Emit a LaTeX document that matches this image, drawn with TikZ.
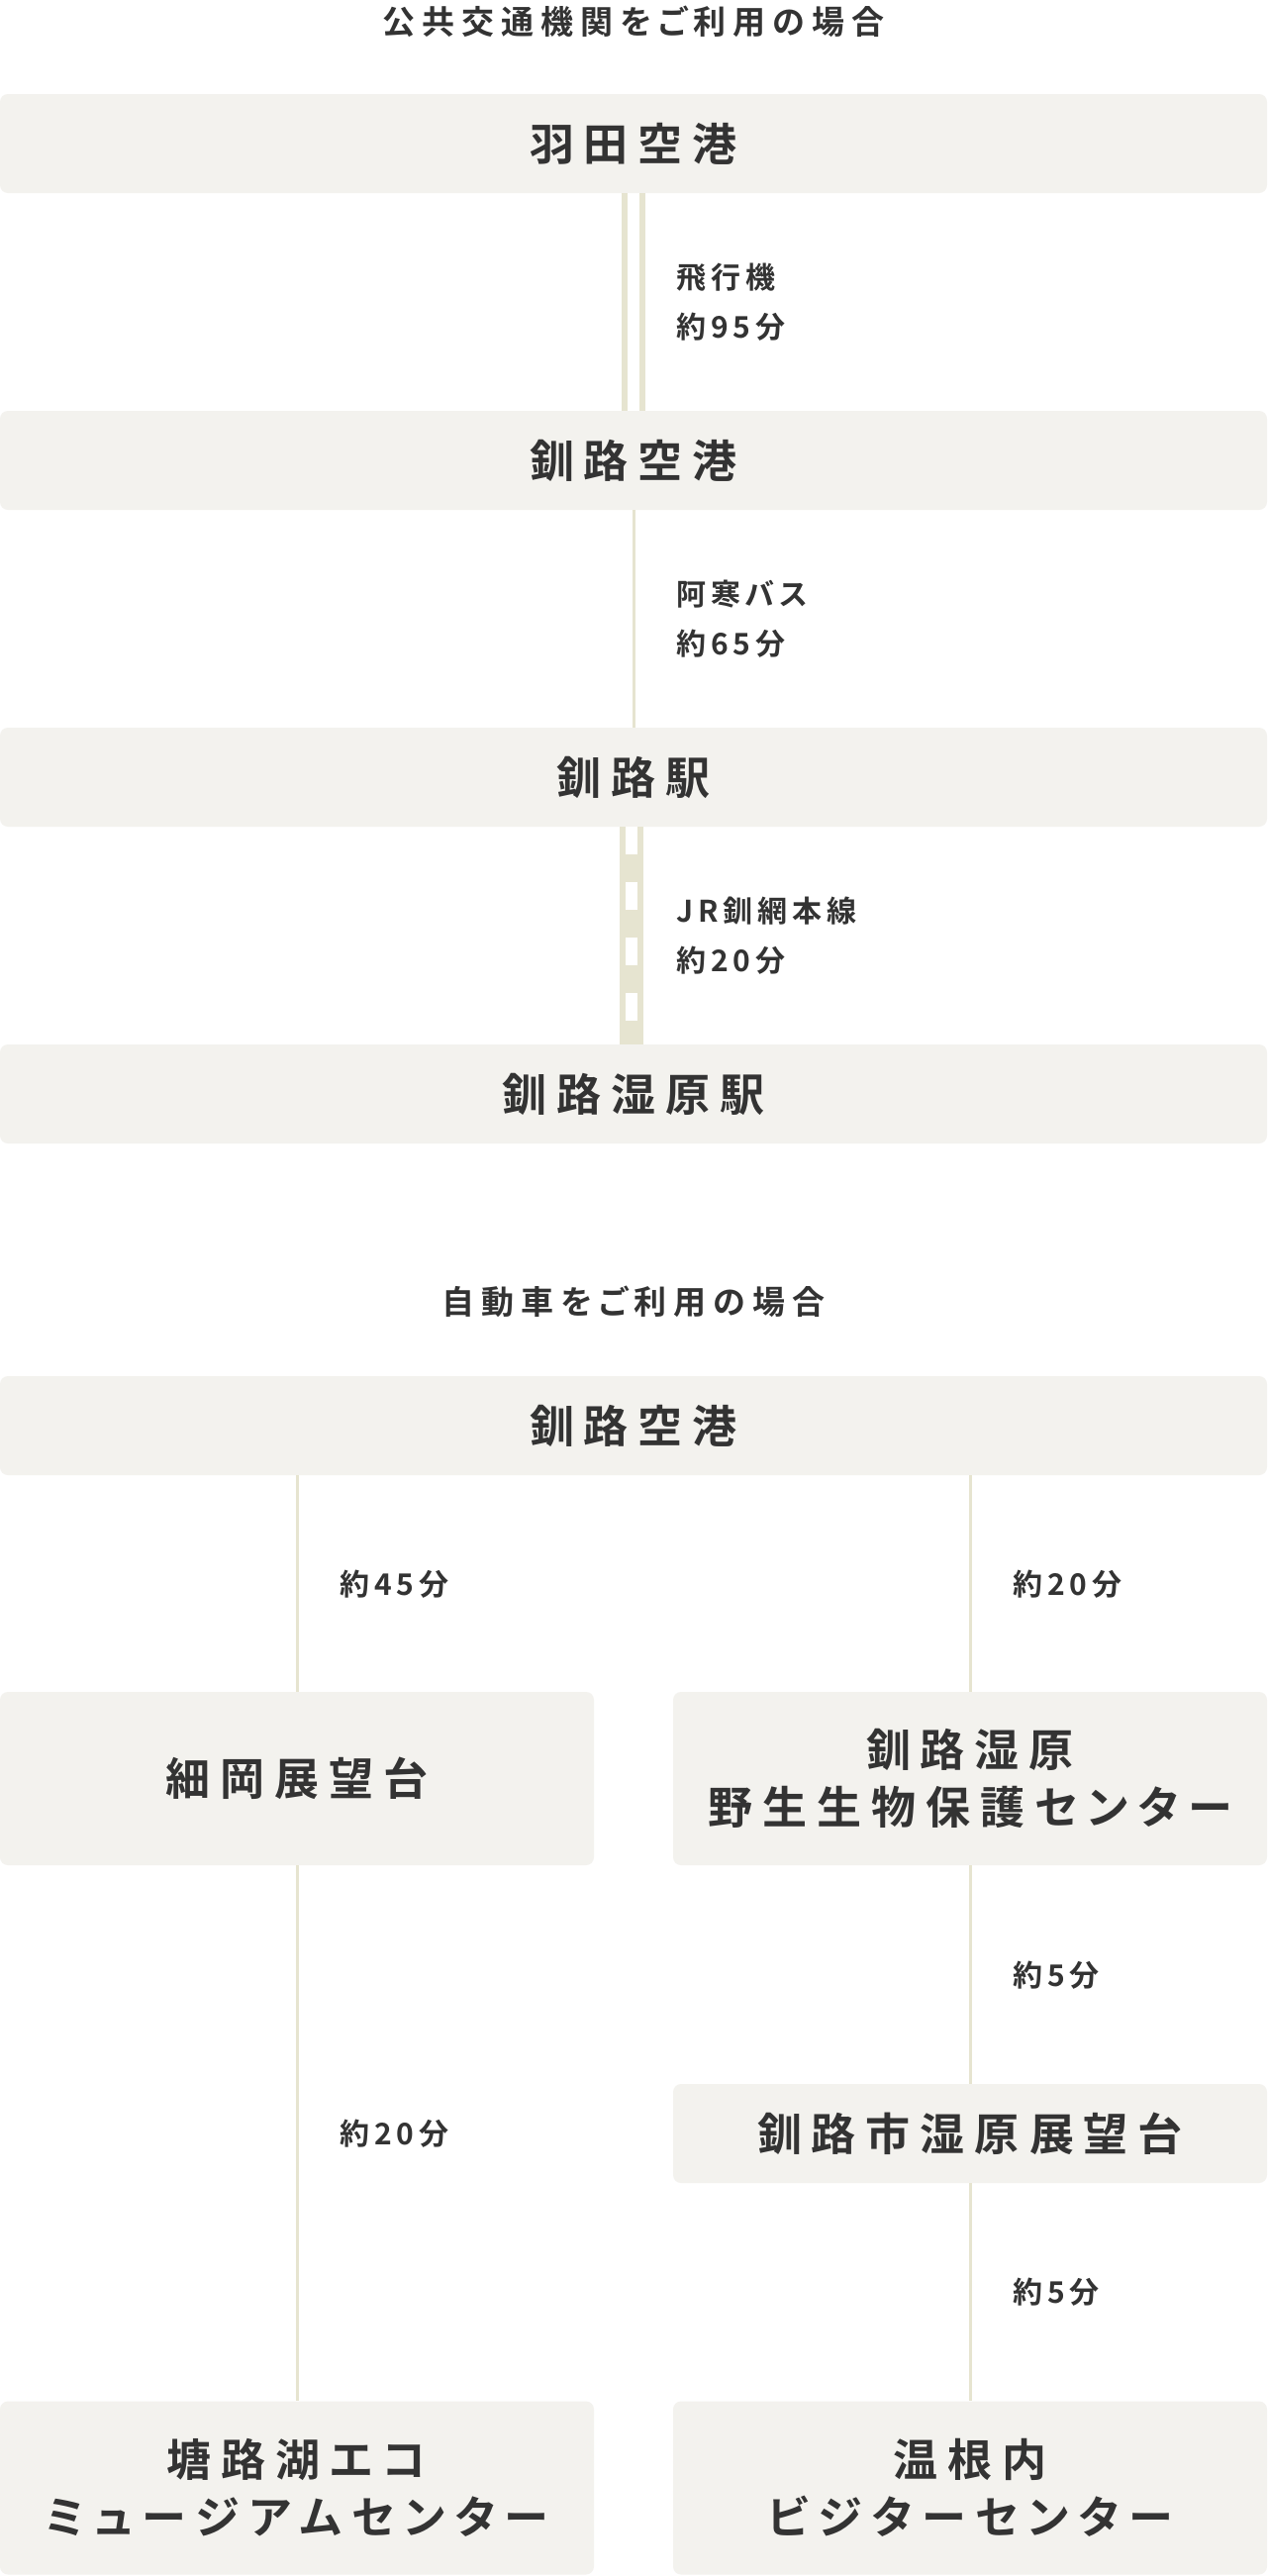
\documentclass[tikz,border=0pt]{standalone}
\usepackage{fontspec}
\setmainfont{Noto Sans CJK JP}[BoldFont={* Bold}, RawFeature=+palt]
\ExplSyntaxOn
\NewDocumentCommand\trk{mm}{\tl_map_inline:nn{#2}{##1\kern#1}\kern-#1}
\ExplSyntaxOff
\definecolor{boxbg}{HTML}{F3F2EE}
\definecolor{railc}{HTML}{E6E4D0}
\definecolor{ink}{HTML}{333333}
\begin{document}
\begin{tikzpicture}[x=1pt,y=-1pt,
  box/.style={fill=boxbg, rounded corners=8pt, inner sep=0pt, text=ink,
    font=\bfseries\fontsize{45}{58}\selectfont, align=center},
  lbl/.style={anchor=west, inner sep=0pt, text=ink,
    font=\bfseries\fontsize{30}{50}\selectfont, align=left},
  ttl/.style={inner sep=0pt, text=ink, font=\bfseries\fontsize{33}{40}\selectfont},
  conn/.style={draw=railc, line width=3pt},
  dbl/.style={draw=railc, line width=6pt}]
\fill[white] (0,0) rectangle (1280,2602);
\useasboundingbox (0,0) rectangle (1280,2602);

% ---- public transport ----
\node[ttl] (t1) at (640,22) {\trk{7pt}{公共交通機関をご利用の場合}};
\node[box, minimum width=1280pt, minimum height=100pt] (b1) at (640,145) {\trk{10pt}{羽田空港}};
\node[box, minimum width=1280pt, minimum height=100pt] (b2) at (640,465) {\trk{10pt}{釧路空港}};
\node[box, minimum width=1280pt, minimum height=100pt] (b3) at (640,785) {\trk{10pt}{釧路駅}};
\node[box, minimum width=1280pt, minimum height=100pt] (b4) at (640,1105) {\trk{10pt}{釧路湿原駅}};

\draw[dbl] ([xshift=-9pt]b1.south) -- ([xshift=-9pt]b2.north);
\draw[dbl] ([xshift=9pt]b1.south) -- ([xshift=9pt]b2.north);
\draw[conn] (b2.south) -- (b3.north);
\draw[draw=railc, line width=24pt] ([xshift=-2pt]b3.south) -- ([xshift=-2pt]b4.north);
\draw[draw=white, line width=12pt, dash pattern=on 28pt off 28pt] ([xshift=-2pt]b3.south) -- ([xshift=-2pt]b4.north);

\node[lbl] (l1) at (683,305) {\trk{5pt}{飛行機}\\\trk{5pt}{約95分}};
\node[lbl] (l2) at (683,625) {\trk{5pt}{阿寒バス}\\\trk{5pt}{約65分}};
\node[lbl] (l3) at (683,945) {\trk{5pt}{JR釧網本線}\\\trk{5pt}{約20分}};

% ---- car ----
\node[ttl] (t2) at (640,1315) {\trk{7pt}{自動車をご利用の場合}};
\node[box, minimum width=1280pt, minimum height=100pt] (c1) at (640,1440) {\trk{10pt}{釧路空港}};
\node[box, minimum width=600pt, minimum height=175pt] (c2) at (300,1796.5) {\trk{10pt}{細岡展望台}};
\node[box, minimum width=600pt, minimum height=175pt] (c3) at (980,1796.5) {\trk{10pt}{釧路湿原}\\\trk{10pt}{野生生物保護センター}};
\node[box, minimum width=600pt, minimum height=100pt] (c4) at (980,2155) {\trk{10pt}{釧路市湿原展望台}};
\node[box, minimum width=600pt, minimum height=175pt] (c5) at (300,2513) {\trk{10pt}{塘路湖エコ}\\\trk{10pt}{ミュージアムセンター}};
\node[box, minimum width=600pt, minimum height=175pt] (c6) at (980,2513) {\trk{10pt}{温根内}\\\trk{10pt}{ビジターセンター}};

\draw[conn] (c2.north |- c1.south) -- (c2.north);
\draw[conn] (c3.north |- c1.south) -- (c3.north);
\draw[conn] (c2.south) -- (c5.north);
\draw[conn] (c3.south) -- (c4.north);
\draw[conn] (c4.south) -- (c6.north);

\node[lbl] (m1) at (343,1600) {\trk{5pt}{約45分}};
\node[lbl] (m2) at (1023,1600) {\trk{5pt}{約20分}};
\node[lbl] (m3) at (1023,1995) {\trk{5pt}{約5分}};
\node[lbl] (m4) at (343,2155) {\trk{5pt}{約20分}};
\node[lbl] (m5) at (1023,2315) {\trk{5pt}{約5分}};
\end{tikzpicture}
\end{document}
